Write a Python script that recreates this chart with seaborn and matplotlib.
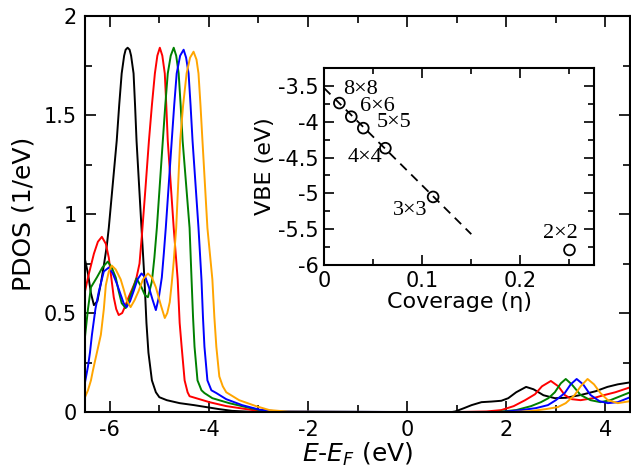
import numpy as np
import pandas as pd
import matplotlib
matplotlib.use('Agg')
import matplotlib.pyplot as plt
import seaborn as sns
from matplotlib.ticker import MultipleLocator

# PDOS curves: energy (eV) and PDOS (1/eV)
e_black = [-6.5, -6.44, -6.38, -6.32, -6.25, -6.18, -6.12, -6.06, -6.02, -5.94, -5.86, -5.81, -5.76,
           -5.71, -5.68, -5.64, -5.60, -5.57, -5.52, -5.49, -5.46, -5.41, -5.36, -5.30, -5.26, -5.22,
           -5.15, -5.07, -5.0, -4.85, -4.59, -4.3, -4.05, -3.8, -3.53, -3.2, -2.8, -2.0, -1.0, 0.0,
           0.9, 0.97, 1.15, 1.30, 1.50, 1.70, 1.90, 2.04, 2.2, 2.4, 2.55, 2.75, 2.98, 3.2, 3.5, 3.8,
           4.04, 4.25, 4.5]
pdos_black = [0.77, 0.70, 0.60, 0.54, 0.56, 0.65, 0.74, 0.84, 0.93, 1.15, 1.37, 1.55, 1.71,
              1.80, 1.83, 1.84, 1.83, 1.80, 1.71, 1.55, 1.37, 1.15, 0.93, 0.67, 0.45, 0.30,
              0.16, 0.10, 0.075, 0.06, 0.045, 0.035, 0.025, 0.015, 0.006, 0.002, 0.0, 0.0, 0.0, 0.0,
              0.0, 0.003, 0.02, 0.035, 0.05, 0.053, 0.057, 0.07, 0.10, 0.127, 0.115, 0.085, 0.07, 0.072,
              0.086, 0.105, 0.127, 0.14, 0.15]

e_red = [-6.5, -6.42, -6.32, -6.24, -6.16, -6.08, -6.02, -5.97, -5.92, -5.87, -5.82, -5.75, -5.68,
         -5.62, -5.55, -5.50, -5.46, -5.40, -5.35, -5.28, -5.21, -5.15, -5.09, -5.04, -4.99, -4.94,
         -4.89, -4.86, -4.83, -4.77, -4.71, -4.63, -4.59, -4.55, -4.49, -4.43, -4.39, -4.19, -3.99,
         -3.65, -3.25, -2.98, -2.5, 0.0, 1.0, 1.6, 1.9, 2.15, 2.38, 2.58, 2.72, 2.9, 3.05, 3.18, 3.32,
         3.5, 3.75, 3.98, 4.2, 4.5]
pdos_red = [0.61, 0.70, 0.80, 0.86, 0.885, 0.85, 0.78, 0.68, 0.58, 0.52, 0.49, 0.50, 0.54,
            0.58, 0.62, 0.65, 0.68, 0.75, 0.90, 1.13, 1.37, 1.55, 1.71, 1.80, 1.84, 1.80,
            1.71, 1.55, 1.37, 1.15, 0.93, 0.67, 0.45, 0.33, 0.16, 0.10, 0.08, 0.065, 0.05,
            0.03, 0.015, 0.005, 0.0, 0.0, 0.0, 0.003, 0.01, 0.03, 0.06, 0.09, 0.13, 0.157, 0.13, 0.086, 0.065,
            0.06, 0.07, 0.086, 0.10, 0.125]

e_green = [-6.5, -6.44, -6.38, -6.26, -6.15, -6.04, -5.96, -5.88, -5.82, -5.76, -5.68, -5.62, -5.55,
           -5.46, -5.36, -5.29, -5.23, -5.15, -5.10, -5.05, -4.99, -4.93, -4.88, -4.83, -4.77, -4.71,
           -4.66, -4.61, -4.57, -4.53, -4.46, -4.39, -4.35, -4.32, -4.29, -4.23, -4.15, -4.09, -3.93,
           -3.59, -3.25, -2.98, -2.6, 0.0, 1.8, 2.2, 2.5, 2.7, 2.85, 2.98, 3.1, 3.2, 3.32, 3.5, 3.7,
           3.9, 4.1, 4.3, 4.5]
pdos_green = [0.38, 0.52, 0.63, 0.68, 0.73, 0.76, 0.73, 0.68, 0.61, 0.55, 0.525, 0.56, 0.61,
              0.675, 0.63, 0.59, 0.58, 0.66, 0.78, 0.93, 1.15, 1.37, 1.55, 1.71, 1.80, 1.84,
              1.80, 1.71, 1.55, 1.37, 1.15, 0.93, 0.67, 0.48, 0.33, 0.16, 0.11, 0.096, 0.07,
              0.045, 0.025, 0.01, 0.002, 0.0, 0.0, 0.01, 0.03, 0.05, 0.07, 0.10, 0.145, 0.167, 0.14, 0.086, 0.06,
              0.05, 0.06, 0.08, 0.10]

e_blue = [-6.5, -6.44, -6.40, -6.36, -6.29, -6.22, -6.12, -6.02, -5.94, -5.86, -5.79, -5.72, -5.66,
          -5.59, -5.52, -5.44, -5.36, -5.28, -5.21, -5.14, -5.07, -5.01, -4.95, -4.91, -4.87, -4.81,
          -4.75, -4.70, -4.65, -4.58, -4.51, -4.46, -4.41, -4.37, -4.33, -4.27, -4.21, -4.15, -4.12,
          -4.09, -4.03, -3.95, -3.85, -3.65, -3.33, -2.98, -2.6, 0.0, 1.9, 2.3, 2.6, 2.84, 3.0, 3.18,
          3.3, 3.42, 3.55, 3.7, 3.88, 4.05, 4.25, 4.5]
pdos_blue = [0.15, 0.23, 0.30, 0.39, 0.52, 0.61, 0.71, 0.73, 0.70, 0.65, 0.60, 0.55, 0.53,
             0.56, 0.61, 0.67, 0.70, 0.68, 0.63, 0.57, 0.515, 0.58, 0.68, 0.80, 0.93, 1.15,
             1.37, 1.55, 1.71, 1.80, 1.83, 1.79, 1.71, 1.55, 1.37, 1.15, 0.93, 0.67, 0.48,
             0.33, 0.16, 0.11, 0.096, 0.065, 0.035, 0.012, 0.003, 0.0, 0.0, 0.01, 0.02, 0.035, 0.06, 0.096,
             0.14, 0.167, 0.14, 0.086, 0.055, 0.045, 0.05, 0.075]

e_orange = [-6.5, -6.44, -6.38, -6.34, -6.26, -6.18, -6.12, -6.08, -6.02, -5.96, -5.88, -5.78, -5.72,
            -5.66, -5.58, -5.50, -5.42, -5.33, -5.23, -5.15, -5.07, -4.97, -4.89, -4.84, -4.79, -4.75,
            -4.71, -4.66, -4.62, -4.58, -4.52, -4.45, -4.38, -4.31, -4.25, -4.21, -4.17, -4.13, -4.08,
            -4.03, -3.93, -3.89, -3.85, -3.79, -3.72, -3.65, -3.39, -3.05, -2.78, -2.4, 0.0, 2.1, 2.5,
            2.8, 3.04, 3.2, 3.38, 3.5, 3.64, 3.77, 3.9, 4.05, 4.25, 4.5]
pdos_orange = [0.075, 0.11, 0.16, 0.21, 0.30, 0.39, 0.52, 0.64, 0.71, 0.74, 0.72, 0.67, 0.62,
               0.565, 0.53, 0.565, 0.61, 0.67, 0.70, 0.68, 0.63, 0.54, 0.475, 0.50, 0.555, 0.65,
               0.76, 0.93, 1.15, 1.37, 1.55, 1.71, 1.79, 1.82, 1.78, 1.71, 1.55, 1.37, 1.15,
               0.93, 0.67, 0.48, 0.33, 0.18, 0.13, 0.10, 0.06, 0.03, 0.01, 0.002, 0.0, 0.0, 0.005,
               0.015, 0.025, 0.045, 0.086, 0.13, 0.167, 0.14, 0.096, 0.06, 0.045, 0.055]

# inset: valence band edge vs coverage
supercells = ['8×8', '6×6', '5×5', '4×4', '3×3', '2×2']
coverage = [1/64, 1/36, 1/25, 1/16, 1/9, 1/4]
vbe = [-3.74, -3.93, -4.09, -4.37, -5.05, -5.79]
fit_eta = [0.0, 0.15]
fit_vbe = [-3.53, -5.57]
# where the supercell labels sit (eta, VBE)
label_eta = [0.019, 0.037, 0.054, 0.0245, 0.0704, 0.2235]
label_vbe = [-3.55, -3.79, -4.01, -4.50, -5.24, -5.56]

main_yticks = [0, 0.5, 1, 1.5, 2]
main_ylabels = ['0', '0.5', '1', '1.5', '2']
main_xticks = [-6, -4, -2, 0, 2, 4]
inset_xticks = [0, 0.1, 0.2]
inset_xlabels = ['0', '0.1', '0.2']
inset_yticks = [-6, -5.5, -5, -4.5, -4, -3.5]
inset_ylabels = ['-6', '-5.5', '-5', '-4.5', '-4', '-3.5']

sns.set_style('ticks')
plt.rcParams['font.family'] = ['DejaVu Sans']
plt.rcParams['mathtext.fontset'] = 'dejavusans'
plt.rcParams['axes.unicode_minus'] = False
plt.rcParams['text.color'] = 'black'
plt.rcParams['axes.labelcolor'] = 'black'
plt.rcParams['xtick.color'] = 'black'
plt.rcParams['ytick.color'] = 'black'

fig = plt.figure(figsize=(6.31, 4.72), dpi=100)
ax = fig.add_axes([0.1347, 0.127, 0.864, 0.839])

curves = [(e_black, pdos_black, 'black'), (e_red, pdos_red, 'red'),
          (e_green, pdos_green, 'green'), (e_blue, pdos_blue, 'blue'),
          (e_orange, pdos_orange, 'orange')]
for e, p, c in curves:
    sns.lineplot(x=e, y=p, ax=ax, color=c, linewidth=1.4, sort=False)

ax.set_xlim(-6.5, 4.5)
ax.set_ylim(0, 2)
ax.set_xticks(main_xticks)
ax.set_xticklabels([str(t) for t in main_xticks])
ax.set_yticks(main_yticks)
ax.set_yticklabels(main_ylabels)
ax.xaxis.set_minor_locator(MultipleLocator(1))
ax.yaxis.set_minor_locator(MultipleLocator(0.25))
ax.tick_params(which='both', direction='in', top=True, right=True, width=1.2, colors='black',
               labelsize=15, pad=6)
ax.tick_params(which='major', length=8)
ax.tick_params(which='minor', length=5)
for s in ax.spines.values():
    s.set_linewidth(1.5)
    s.set_color('black')
ax.set_xlabel(r'$E$-$E_F$ (eV)', fontsize=18, labelpad=0, color='black')
ax.set_ylabel('PDOS (1/eV)', fontsize=18, labelpad=6, color='black')

# inset
ins = fig.add_axes([0.5135, 0.4386, 0.4279, 0.4174])
sns.lineplot(x=fit_eta, y=fit_vbe, ax=ins, color='black', linewidth=1.3,
             linestyle=(0, (5, 3.5)))
sns.scatterplot(x=coverage, y=vbe, ax=ins, marker='o', s=60, facecolor='none',
                edgecolor='black', linewidth=1.3, zorder=3)
for name, xe, ye in zip(supercells, label_eta, label_vbe):
    ins.text(xe, ye, name, fontsize=16, family=['Liberation Serif', 'DejaVu Serif'],
             ha='left', va='center', color='black')

ins.set_xlim(0, 0.275)
ins.set_ylim(-6, -3.25)
ins.set_xticks(inset_xticks)
ins.set_xticklabels(inset_xlabels)
ins.set_yticks(inset_yticks)
ins.set_yticklabels(inset_ylabels)
ins.xaxis.set_minor_locator(MultipleLocator(0.05))
ins.yaxis.set_minor_locator(MultipleLocator(0.25))
ins.tick_params(which='both', direction='in', top=True, right=True, width=1.2, colors='black',
                labelsize=15, pad=4)
ins.tick_params(which='major', length=7)
ins.tick_params(which='minor', length=4)
for s in ins.spines.values():
    s.set_linewidth(1.5)
    s.set_color('black')
ins.set_xlabel('Coverage (η)', fontsize=16, labelpad=1, color='black')
ins.set_ylabel('VBE (eV)', fontsize=16, labelpad=2, color='black')

fig.savefig('out.png', dpi=100)
